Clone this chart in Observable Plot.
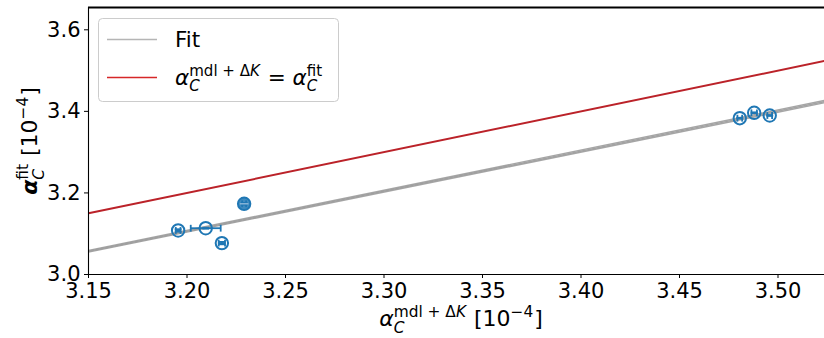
<!DOCTYPE html>
<html>
<head>
<meta charset="utf-8">
<script src="https://cdn.jsdelivr.net/npm/d3@7"></script>
<script src="https://cdn.jsdelivr.net/npm/@observablehq/plot@0.6"></script>
<style>
  body { margin: 0; background: #fff; }
  svg { font-family: "DejaVu Sans", sans-serif; }
</style>
</head>
<body>
<div id="chart"></div>
<script>
// Measured coefficients (units of 1e-4)
const alphaModel = [3.1955, 3.2095, 3.2177, 3.2290, 3.4806, 3.4879, 3.4958];
const alphaFit   = [3.1080, 3.1135, 3.0770, 3.1734, 3.3833, 3.3965, 3.3899];
const modelErr   = [0.0012, 0.0076, 0.0016, 0.0010, 0.0012, 0.0014, 0.0012];
const fitErr     = [0.0030, 0.0012, 0.0030, 0.0022, 0.0010, 0.0010, 0.0010];

// Fitted lines, given by their value at both ends of the x range
const lineX       = [3.15, 3.5236];
const fitStartY   = [3.057, 3.055, 3.059];
const fitEndY     = [3.424, 3.421, 3.427];

const xTicks = [3.15, 3.20, 3.25, 3.30, 3.35, 3.40, 3.45, 3.50];
const yTicks = [3.0, 3.2, 3.4, 3.6];

const blue = "#1f77b4";
const points = alphaModel.map((x, i) => ({i, x, y: alphaFit[i], ex: modelErr[i], ey: fitErr[i]}));
const fits = fitStartY.flatMap((y0, k) => [
  {k, x: lineX[0], y: y0},
  {k, x: lineX[1], y: fitEndY[k]}
]);
const identity = lineX.map(x => ({x, y: x}));

// error-bar caps as short line symbols
const vCap = {draw(ctx, size) { const h = Math.sqrt(size / Math.PI); ctx.moveTo(0, -h); ctx.lineTo(0, h); }};
const hCap = {draw(ctx, size) { const h = Math.sqrt(size / Math.PI); ctx.moveTo(-h, 0); ctx.lineTo(h, 0); }};

const xMin = 3.15, xMax = 3.5236, yMin = 3.0, yMax = 3.6547;

const chart = Plot.plot({
  width: 824,
  height: 338,
  marginLeft: 88,
  marginTop: 7,
  marginBottom: 64,
  marginRight: 0,
  style: {fontFamily: "DejaVu Sans", fontSize: "21px", color: "black", background: "white"},
  x: {domain: [xMin, xMax], ticks: xTicks, tickFormat: d3.format(".2f"), label: null, tickSize: 4, tickPadding: 5},
  y: {domain: [yMin, yMax], ticks: yTicks, tickFormat: d3.format(".1f"), label: null, tickSize: 4, tickPadding: 4},
  marks: [
    Plot.line(fits, {x: "x", y: "y", z: "k", stroke: "#969696", strokeWidth: 1.4, strokeOpacity: 0.85, clip: true}),
    Plot.line(identity, {x: "x", y: "y", stroke: "#bb2229", strokeWidth: 2, clip: true}),
    // error bars
    Plot.link(points, {x1: d => d.x - d.ex, x2: d => d.x + d.ex, y1: "y", y2: "y", stroke: blue, strokeWidth: 1.8}),
    Plot.link(points, {x1: "x", x2: "x", y1: d => d.y - d.ey, y2: d => d.y + d.ey, stroke: blue, strokeWidth: 1.8}),
    Plot.dot(points, {x: d => d.x - d.ex, y: "y", symbol: vCap, r: 3.4, stroke: blue, strokeWidth: 1.8}),
    Plot.dot(points, {x: d => d.x + d.ex, y: "y", symbol: vCap, r: 3.4, stroke: blue, strokeWidth: 1.8}),
    Plot.dot(points, {x: "x", y: d => d.y - d.ey, symbol: hCap, r: 3.4, stroke: blue, strokeWidth: 1.8}),
    Plot.dot(points, {x: "x", y: d => d.y + d.ey, symbol: hCap, r: 3.4, stroke: blue, strokeWidth: 1.8}),
    // markers
    Plot.dot(points.filter(d => d.i === 3), {x: "x", y: "y", r: 6.2, fill: blue, fillOpacity: 0.85}),
    Plot.link(points.filter(d => d.i === 3), {x1: d => d.x - 0.0022, x2: d => d.x + 0.0022, y1: "y", y2: "y", stroke: "#8fb8d9", strokeWidth: 1.4}),
    Plot.dot(points, {x: "x", y: "y", r: 6.2, stroke: blue, strokeWidth: 2, fill: "none"}),
    // spines
    Plot.ruleX([xMin], {stroke: "black", strokeWidth: 1.1}),
    Plot.ruleY([yMin], {stroke: "black", strokeWidth: 1.1}),
    Plot.ruleY([yMax], {stroke: "black", strokeWidth: 2})
  ]
});

document.getElementById("chart").appendChild(chart);

const svg = d3.select(chart);

// Lay out a small piece of math: items are plain runs or {sub, sup} stacks
function mathText(parent, items, size) {
  const g = parent.append("g").attr("text-anchor", "start");
  let cx = 0;
  const run = (p, x, dy, fs) => {
    const t = g.append("text")
      .attr("x", x).attr("y", dy)
      .attr("text-anchor", "start")
      .attr("font-size", fs)
      .attr("font-style", p.italic ? "italic" : "normal")
      .attr("font-weight", p.bold ? "bold" : "normal")
      .attr("fill", "black")
      .style("white-space", "pre")
      .text(p.t);
    return t.node().getComputedTextLength();
  };
  for (const it of items) {
    if (it.sub || it.sup) {
      let w = 0;
      const small = size * 0.7;
      if (it.sub) { let x = cx; for (const p of it.sub) x += run(p, x, size * 0.3, small); w = Math.max(w, x - cx); }
      if (it.sup) { let x = cx; for (const p of it.sup) x += run(p, x, -size * 0.42, small); w = Math.max(w, x - cx); }
      cx += w + 1;
    } else {
      cx += run(it, cx, 0, size);
    }
  }
  return {g, width: cx};
}

// x-axis label
{
  const m = mathText(svg, [
    {t: "α", italic: true},
    {sub: [{t: "C", italic: true}], sup: [{t: "mdl + Δ"}, {t: "K", italic: true}]},
    {t: " [10"},
    {sup: [{t: "−4"}]},
    {t: "]"}
  ], 22);
  m.g.attr("transform", `translate(${461 - m.width / 2},326)`);
}

// y-axis label
{
  const m = mathText(svg, [
    {t: "α", italic: true, bold: true},
    {sub: [{t: "C", italic: true}], sup: [{t: "fit"}]},
    {t: " [10"},
    {sup: [{t: "−4"}]},
    {t: "]"}
  ], 22);
  m.g.attr("transform", `translate(37,${141 + m.width / 2}) rotate(-90)`);
}

// legend
{
  const lg = svg.append("g");
  lg.append("rect")
    .attr("x", 98.5).attr("y", 18.5).attr("width", 240).attr("height", 83)
    .attr("rx", 4).attr("fill", "white").attr("fill-opacity", 0.85)
    .attr("stroke", "#cccccc").attr("stroke-width", 1);
  lg.append("line").attr("x1", 107).attr("x2", 157).attr("y1", 39.5).attr("y2", 39.5)
    .attr("stroke", "#b5b5b5").attr("stroke-width", 1.5);
  lg.append("line").attr("x1", 107).attr("x2", 157).attr("y1", 77.5).attr("y2", 77.5)
    .attr("stroke", "#d62728").attr("stroke-width", 1.5);
  lg.append("text").attr("x", 175).attr("y", 47).attr("text-anchor", "start")
    .attr("font-size", 21.5).attr("fill", "black").text("Fit");
  const m = mathText(lg, [
    {t: "α", italic: true},
    {sub: [{t: "C", italic: true}], sup: [{t: "mdl + Δ"}, {t: "K", italic: true}]},
    {t: " = "},
    {t: "α", italic: true},
    {sub: [{t: "C", italic: true}], sup: [{t: "fit"}]}
  ], 21.5);
  m.g.attr("transform", "translate(175,85)");
}
</script>
</body>
</html>
